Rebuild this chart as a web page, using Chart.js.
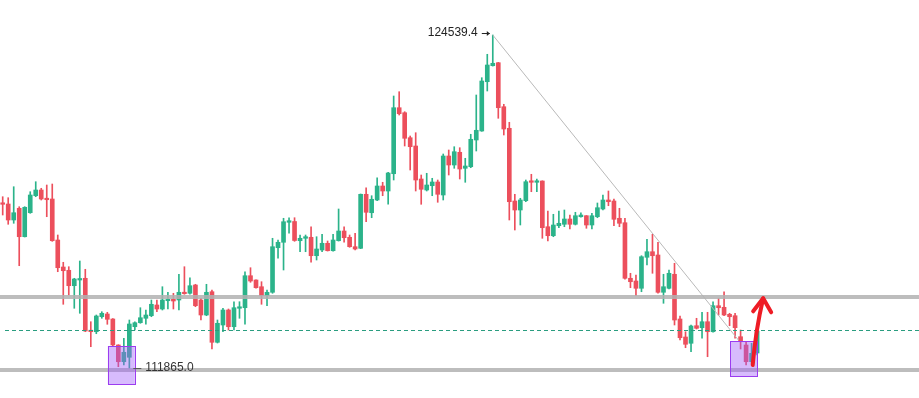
<!DOCTYPE html>
<html>
<head>
<meta charset="utf-8">
<script src="https://cdn.jsdelivr.net/npm/chart.js@4.4.1/dist/chart.umd.min.js"></script>
<style>
html,body{margin:0;padding:0;background:#fff;}
#wrap{position:relative;width:919px;height:398px;}
</style>
</head>
<body>
<div id="wrap"><canvas id="c"></canvas></div>
<script>
// ---- data (BTC-like price candles) ----
const openP = [
118145,118118,117510,117955,116875,117787,118433,118650,118335,118308,
116750,115724,115599,115013,115230,115295,113319,113265,113835,113938,
113748,112760,112125,112293,113455,113607,113775,113873,114280,114128,
114443,114497,114470,114763,114725,115040,114470,113900,114785,112863,
113520,114090,113455,114155,114177,115393,115230,114975,114633,114763,
116457,116663,117423,117453,116723,116815,116853,116153,116370,116625,
116343,116723,117092,116853,116495,116435,118487,117787,118270,118802,
118612,119269,121777,121587,120637,120322,119068,118650,118813,118954,
118460,119942,119600,120083,119475,119535,120550,120892,122765,123373,
123487,121815,120995,118232,117890,118243,118992,118943,118992,117255,
116913,117293,117347,117548,117347,117635,117673,117320,117635,117928,
118270,118232,117575,117407,115295,115192,114915,116093,116305,116180,
114763,114915,115447,113748,113064,112825,113493,113417,113645,113265,
114253,114193,113927,113873,113075,112760,112125,112456
];
const highP = [
118395,118357,118775,118015,118015,118585,118965,118715,118840,118878,
116940,115903,115735,115295,115952,115637,113645,113900,114025,114003,
113760,112770,113015,113710,113645,114177,114090,114470,114470,114975,
114763,114725,115447,115735,115317,115067,114535,115067,114850,113710,
114155,114128,114405,114405,115545,115697,115240,115165,114850,116815,
116750,117575,117597,117597,116940,116940,117255,116875,116967,116712,
116967,117928,117255,116940,117005,118498,118737,118433,119117,118943,
119323,122222,122385,121625,120702,120827,119220,119285,119095,119030,
120018,120170,120295,120257,119855,120767,122260,122917,123807,124539.4,
123500,121907,121223,118487,118335,119030,119247,119068,119000,117852,
117727,117852,117890,117700,117803,117787,117680,117765,118156,118460,
118612,118308,117955,117575,115485,115420,116153,116777,116967,116663,
115447,115610,115865,113862,113265,113520,113775,114003,114003,114405,
114535,114785,113965,113965,113330,112885,112825,113368
];
const lowP = [
117700,117347,117385,115773,116864,117765,118395,118270,117635,116700,
115545,114307,114660,114155,113965,113265,112695,113189,113775,113547,
112695,111935,112000,111865,113330,113585,113547,113835,114025,114090,
114128,114128,114090,114687,114687,114215,113710,113873,112608,112836,
113265,113330,113330,113775,113547,115143,114915,114307,114253,114725,
116055,115610,117005,116700,116305,116305,115903,115990,116305,116330,
116330,116710,116663,116473,116370,116420,117445,117597,118243,118433,
118107,119030,121500,120322,119410,118612,118107,118612,118433,118183,
118270,119220,119475,119068,118943,119497,120132,120880,122412,123360,
121375,120740,117510,117130,117320,118205,118585,118585,116815,116712,
116875,117217,117255,117168,117320,117613,117195,117168,117597,117890,
118053,117293,117255,115257,114937,114633,114785,115800,115485,114725,
114345,114888,113520,112950,112657,112505,113368,113015,112315,113243,
113900,113873,113493,113015,112608,112000,112065,112380
];
const closeP = [
118107,117510,117787,116875,117993,118460,118650,118308,118281,116723,
115697,115583,115013,115268,115279,113292,113265,113862,113965,113737,
112760,112125,112483,113558,113607,113797,113900,114307,114128,114470,
114497,114432,114763,114709,115013,114253,113900,114763,112863,113585,
114090,113455,114177,114204,115393,115192,114937,114633,114763,116495,
116663,117445,117483,116731,116815,116875,116153,116408,116625,116343,
116750,117092,116837,116495,116408,118487,117803,118297,118802,118612,
119296,121777,121549,120615,120295,119030,118677,118840,118954,118487,
119942,119600,120105,119448,119562,120577,120919,122792,123400,123465,
121777,120968,118205,117890,118270,118965,118943,118992,117217,116913,
117320,117385,117548,117347,117673,117700,117320,117673,117977,118270,
118205,117537,117385,115295,115165,114915,116115,116305,116153,114763,
114975,115485,113710,113037,112787,113482,113395,113645,113265,114253,
114177,113900,113835,113417,112885,112125,112445,113292
];
const candleIndex = openP.map((_, i) => i);

// annotation levels / points (price units, candle index units)
const resistanceLevel = 114584;
const supportLevel = 111810;
const dashedLevel = 113349;
const peakLabel = "124539.4";
const peakPoint = { i: 89, p: 124539.4 };
const lowLabel = "111865.0";
const lowPoint = { i: 23, p: 111865 };
const trendEnd = { i: 133.6, p: 112950 };
const box1 = { i0: 19.1, i1: 24.0, p0: 112722, p1: 111278 };
const box2 = { i0: 132.1, i1: 137.0, p0: 112912, p1: 111582 };
const arrowFrom = { i: 136.2, p: 112000 };
const arrowTo = { i: 138.1, p: 114535 };

const UP = '#2bb38a', DOWN = '#ec4f5c';
const colors = candleIndex.map(i => closeP[i] >= openP[i] ? UP : DOWN);

const wickData = candleIndex.map(i => ({ x: i, y: [lowP[i], highP[i]] }));
const bodyData = candleIndex.map(i => ({ x: i, y: [openP[i], closeP[i]] }));

const annot = {
  id: 'annot',
  afterDatasetsDraw(chart) {
    const { ctx, chartArea, scales } = chart;
    const X = v => scales.x.getPixelForValue(v);
    const Y = v => scales.y.getPixelForValue(v);
    ctx.save();
    // trend line
    ctx.strokeStyle = '#b9b9b9'; ctx.lineWidth = 1;
    ctx.beginPath(); ctx.moveTo(X(peakPoint.i), Y(peakPoint.p)); ctx.lineTo(X(trendEnd.i), Y(trendEnd.p)); ctx.stroke();
    // horizontal levels
    ctx.strokeStyle = 'rgba(178,178,178,0.85)'; ctx.lineWidth = 4;
    [resistanceLevel, supportLevel].forEach(p => {
      ctx.beginPath(); ctx.moveTo(chartArea.left, Y(p)); ctx.lineTo(chartArea.right, Y(p)); ctx.stroke();
    });
    // dashed line
    ctx.strokeStyle = '#2a9d80'; ctx.lineWidth = 1; ctx.setLineDash([4, 3]);
    ctx.beginPath(); ctx.moveTo(chartArea.left + 5, Math.round(Y(dashedLevel)) + 0.5); ctx.lineTo(chartArea.right, Math.round(Y(dashedLevel)) + 0.5); ctx.stroke();
    ctx.setLineDash([]);
    // boxes
    [box1, box2].forEach(b => {
      const x0 = X(b.i0), x1 = X(b.i1), y0 = Y(b.p0), y1 = Y(b.p1);
      ctx.fillStyle = 'rgba(160,92,250,0.42)';
      ctx.fillRect(x0, y0, x1 - x0, y1 - y0);
      ctx.strokeStyle = '#9b3cf0'; ctx.lineWidth = 1;
      ctx.strokeRect(Math.round(x0) + 0.5, Math.round(y0) + 0.5, Math.round(x1 - x0), Math.round(y1 - y0));
    });
    // peak label
    const px = X(peakPoint.i), py = Y(peakPoint.p);
    ctx.fillStyle = '#222'; ctx.font = '12px "Liberation Sans", Arial, sans-serif';
    ctx.textAlign = 'right'; ctx.textBaseline = 'middle';
    ctx.fillText(peakLabel, px - 15, py - 2);
    ctx.strokeStyle = '#222'; ctx.lineWidth = 1;
    ctx.beginPath(); ctx.moveTo(px - 11, py - 1.5); ctx.lineTo(px - 3, py - 1.5); ctx.stroke();
    ctx.beginPath(); ctx.moveTo(px - 6, py - 4); ctx.lineTo(px - 3, py - 1.5); ctx.lineTo(px - 6, py + 1); ctx.fillStyle = '#222'; ctx.fill();
    // low label
    const lx = X(lowPoint.i), ly = Y(lowPoint.p);
    ctx.fillStyle = '#333'; ctx.textAlign = 'left';
    ctx.fillText(lowLabel, lx + 16, ly - 1);
    ctx.strokeStyle = '#555';
    ctx.beginPath(); ctx.moveTo(lx + 4, ly); ctx.lineTo(lx + 12, ly); ctx.stroke();
    // red arrow
    const ax = X(arrowFrom.i), ay = Y(arrowFrom.p), tx = X(arrowTo.i), ty = Y(arrowTo.p);
    ctx.strokeStyle = '#ee1c25'; ctx.lineWidth = 4; ctx.lineCap = 'round'; ctx.lineJoin = 'round';
    ctx.beginPath(); ctx.moveTo(ax, ay); ctx.quadraticCurveTo(ax + 3, ay - 35, tx, ty); ctx.stroke();
    ctx.beginPath(); ctx.moveTo(tx - 10, ty + 13); ctx.lineTo(tx, ty); ctx.lineTo(tx + 8, ty + 14); ctx.stroke();
    ctx.restore();
  }
};

new Chart(document.getElementById('c'), {
  type: 'bar',
  data: {
    datasets: [
      { label: 'wick', data: wickData, backgroundColor: colors, barThickness: 1, grouped: false, order: 2 },
      { label: 'body', data: bodyData, backgroundColor: colors, barThickness: 4, minBarLength: 1.5, grouped: false, order: 1 }
    ]
  },
  options: {
    responsive: true,
    maintainAspectRatio: false,
    animation: false,
    layout: { padding: 0 },
    plugins: { legend: { display: false }, tooltip: { enabled: false } },
    scales: {
      x: { type: 'linear', display: false, min: -0.49, max: 166.4, offset: false, grid: { display: false } },
      y: { display: false, min: 110746, max: 125870, grid: { display: false } }
    }
  },
  plugins: [annot]
});
</script>
</body>
</html>
